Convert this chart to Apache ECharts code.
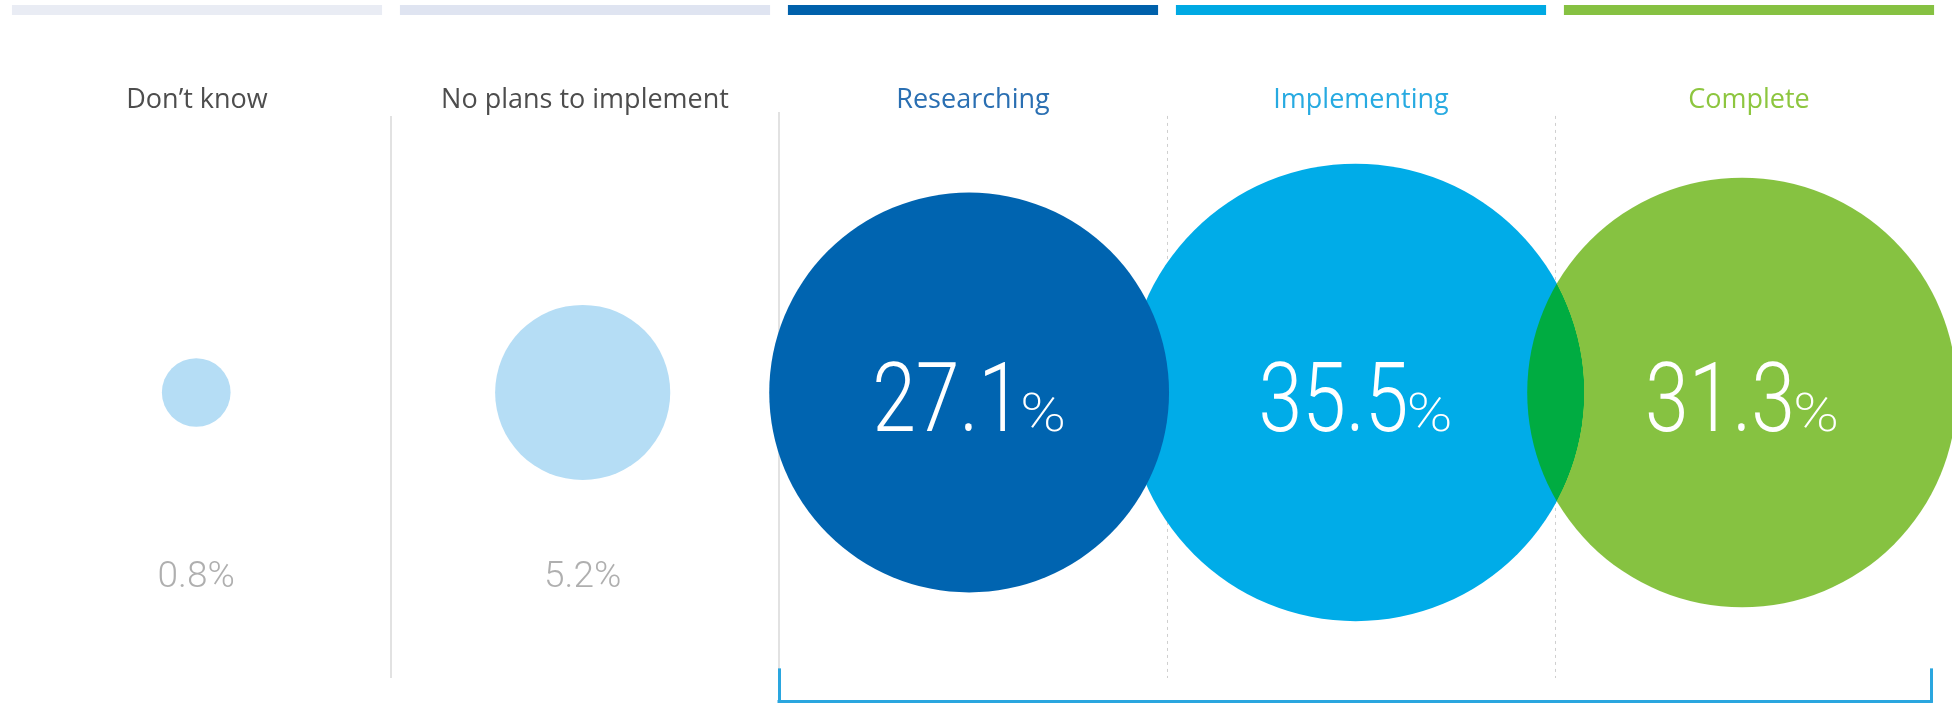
<!DOCTYPE html>
<html><head><meta charset="utf-8">
<script src="https://cdn.jsdelivr.net/npm/echarts@6/dist/echarts.min.js"></script>
<style>html,body{margin:0;padding:0;background:#fff}#c{width:1952px;height:703px}</style>
</head><body><div id="c"></div>
<script>
// ---- data ----
const categories = ['Don\u2019t know', 'No plans to implement', 'Researching', 'Implementing', 'Complete'];
const values = [0.8, 5.2, 27.1, 35.5, 31.3];
const headerBand = [1, 1, 1, 1, 1];

// ---- styles ----
const titleColors = ['#4d4d4d', '#4d4d4d', '#2a6fb2', '#27aae1', '#8dc63f'];
const bandColors = ['#e9ecf4', '#dfe4f1', '#0061ab', '#00a9e3', '#86c142'];
const circleColors = ['#b5ddf5', '#b5ddf5', '#0064b0', '#00ace8', '#86c241'];
const circleZ = [2, 2, 4, 3, 5];
const labelInside = [false, false, true, true, true];
const blendModes = [null, null, null, null, 'darken'];
const SIZE_K = 76.8;          // diameter = SIZE_K * sqrt(value) (area-proportional)
const OUT_LABEL_Y = -0.66;
const LINE_TOP = 0.986, LINE_BOTTOM = -1.018, BRACKET_Y = -1.1, BRACKET_TOP = -0.989;
const NUM_FONT = {size: 96, weight: 300, family: 'Roboto', scaleX: 0.82, dy: -33};
const PCT_FONT = {size: 54, weight: 200, family: 'Roboto', scaleX: 1.15, dy: -2};
const PCT_GAP = -2;

const chart = echarts.init(document.getElementById('c'), null, {renderer: 'canvas'});

const measureCtx = document.createElement('canvas').getContext('2d');
function textWidth(t, f) {
  measureCtx.font = f.weight + ' ' + f.size + 'px ' + f.family;
  return measureCtx.measureText(t).width;
}

const rich = {};
titleColors.forEach((c, i) => { rich['c' + i] = {color: c, fontSize: 27, fontFamily: 'Open Sans'}; });

const divLines = [];
for (let i = 0; i < categories.length - 1; i++) {
  const x = i + 0.5;
  const dashed = i >= 2;
  const top = i === 1 ? 1.0 : LINE_TOP;
  const bottom = i === 1 ? BRACKET_TOP : LINE_BOTTOM;
  divLines.push([
    {coord: [x, top], lineStyle: dashed ? {color: '#cfcfcf', width: 1, type: [3, 4]} : {color: '#e2e2e2', width: 2, type: 'solid'}},
    {coord: [x, bottom]}
  ]);
}
const bracketStyle = {color: '#2aa6df', width: 3, type: 'solid', cap: 'square'};
const bx0 = 1.5, bx1 = categories.length - 0.53;
divLines.push([{coord: [bx0, BRACKET_TOP], lineStyle: bracketStyle}, {coord: [bx0, BRACKET_Y]}]);
divLines.push([{coord: [bx0, BRACKET_Y], lineStyle: bracketStyle}, {coord: [bx1, BRACKET_Y]}]);
divLines.push([{coord: [bx1, BRACKET_Y], lineStyle: bracketStyle}, {coord: [bx1, BRACKET_TOP]}]);

const series = [];
series.push({
  type: 'bar', xAxisIndex: 2, yAxisIndex: 1, silent: true,
  barCategoryGap: '4.6%',
  data: headerBand.map((v, i) => ({value: v, itemStyle: {color: bandColors[i]}}))
});
// placeholder series carrying dividers and bracket
series.push({
  type: 'scatter', xAxisIndex: 1, yAxisIndex: 0, z: 0, silent: true, clip: false,
  data: [], symbolSize: 0,
  markLine: {z: 0, symbol: ['none', 'none'], silent: true, animation: false, label: {show: false}, data: divLines}
});
categories.forEach((c, i) => {
  const s = {
    type: 'scatter', name: c, xAxisIndex: 3, yAxisIndex: 0, z: circleZ[i], silent: true, clip: false,
    data: [[i, 0, values[i]]],
    symbol: 'circle',
    symbolSize: d => SIZE_K * Math.sqrt(d[2]),
    itemStyle: {color: circleColors[i], opacity: 1}
  };
  if (blendModes[i]) s.blendMode = blendModes[i];
  series.push(s);
});
// outside value labels
series.push({
  type: 'scatter', xAxisIndex: 3, yAxisIndex: 0, z: 10, silent: true, clip: false,
  data: values.map((v, i) => [i, OUT_LABEL_Y, v]).filter((d, i) => !labelInside[i]),
  symbolSize: 1, itemStyle: {color: 'transparent'},
  label: {show: true, position: 'inside', formatter: p => p.value[2].toFixed(1) + '%',
    color: '#9b9b9b', fontSize: 37, fontFamily: 'Roboto', fontWeight: 300}
});
// inside big labels
series.push({
  type: 'custom', xAxisIndex: 3, yAxisIndex: 0, z: 20, silent: true, clip: false,
  data: values.map((v, i) => [i, 0, v]).filter((d, i) => labelInside[i]),
  renderItem: (params, api) => {
    const p = api.coord([api.value(0), api.value(1)]);
    const num = api.value(2).toFixed(1);
    const wn = textWidth(num, NUM_FONT) * NUM_FONT.scaleX;
    const wp = textWidth('%', PCT_FONT) * PCT_FONT.scaleX;
    const left = p[0] - (wn + PCT_GAP + wp) / 2;
    return {
      type: 'group',
      children: [
        {type: 'text', x: left, y: p[1] + NUM_FONT.dy, scaleX: NUM_FONT.scaleX,
          style: {text: num, align: 'left', verticalAlign: 'top', fill: '#fff',
            fontSize: NUM_FONT.size, fontWeight: NUM_FONT.weight, fontFamily: NUM_FONT.family}},
        {type: 'text', x: left + wn + PCT_GAP, y: p[1] + PCT_FONT.dy, scaleX: PCT_FONT.scaleX,
          style: {text: '%', align: 'left', verticalAlign: 'top', fill: '#fff',
            fontSize: PCT_FONT.size, fontWeight: PCT_FONT.weight, fontFamily: PCT_FONT.family}}
      ]
    };
  }
});

chart.setOption({
  animation: false,
  backgroundColor: '#fff',
  grid: [
    {left: 3, right: 9, top: 112, bottom: 2, outerBoundsMode: 'none', containLabel: false},
    {left: 3, right: 9, top: 5, height: 10, outerBoundsMode: 'none', containLabel: false}
  ],
  xAxis: [
    {gridIndex: 0, type: 'category', data: categories, position: 'top',
      axisLine: {show: false}, axisTick: {show: false}, splitLine: {show: false},
      axisLabel: {margin: 12, verticalAlign: 'middle', interval: 0, hideOverlap: false,
        formatter: (v, i) => '{c' + i + '|' + v + '}', rich: rich}},
    {gridIndex: 0, type: 'value', min: -0.5, max: 4.5, show: false},
    {gridIndex: 1, type: 'category', data: categories, show: false},
    {gridIndex: 0, type: 'value', min: -0.5, max: 4.52, show: false}
  ],
  yAxis: [
    {gridIndex: 0, type: 'value', min: -1.1, max: 1, show: false},
    {gridIndex: 1, type: 'value', min: 0, max: 1, show: false}
  ],
  series: series
});
</script></body></html>
